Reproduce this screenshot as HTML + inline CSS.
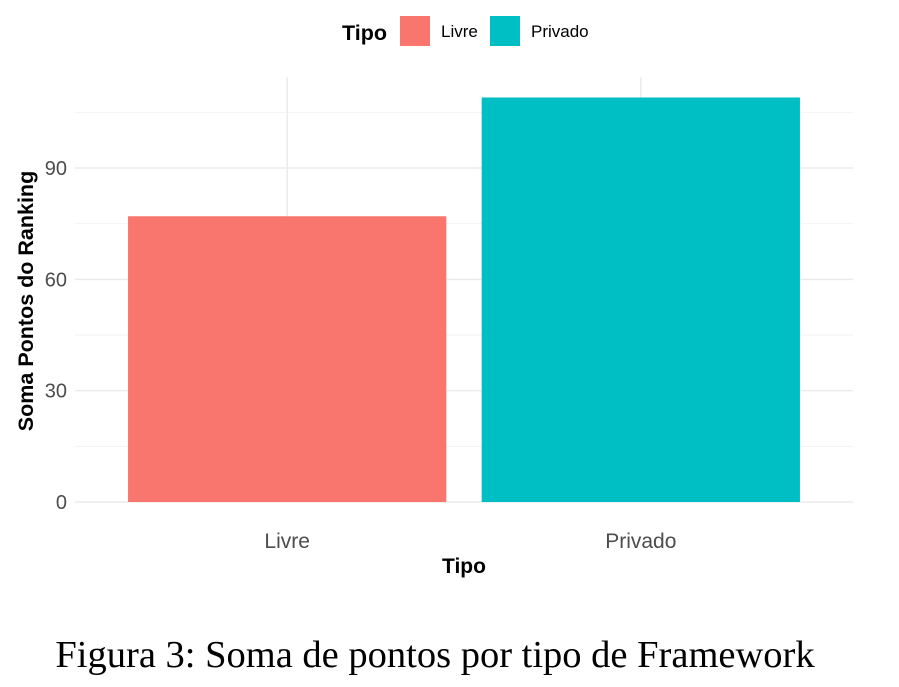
<!DOCTYPE html>
<html><head><meta charset="utf-8"><style>
body{margin:0;background:#fff;}
svg{display:block;font-family:"Liberation Sans",sans-serif;}
</style></head><body>
<svg id="chart" width="899" height="687" viewBox="0 0 899 687">
<g id="grid"></g><g id="bars"></g><g id="axes"></g>
<g>
<text x="342" y="40" font-size="21.5" font-weight="bold">Tipo</text>
<rect x="400" y="16" width="30" height="30" fill="#F8766D"/>
<text x="441" y="37" font-size="17">Livre</text>
<rect x="490" y="16" width="30" height="30" fill="#00BFC4"/>
<text x="531" y="37" font-size="17">Privado</text>
</g>
<text x="464" y="573" font-size="21" font-weight="bold" text-anchor="middle">Tipo</text>
<text transform="translate(33,301) rotate(-90)" font-size="21.5" font-weight="bold" text-anchor="middle">Soma Pontos do Ranking</text>
<text x="435" y="667" font-size="38.5" font-family="'Liberation Serif',serif" text-anchor="middle">Figura 3: Soma de pontos por tipo de Framework</text>
</svg>
<script>
const categories=["Livre","Privado"];
const values=[77,109];
const colors=["#F8766D","#00BFC4"];
const yTicks=[0,30,60,90];
const yMinor=[15,45,75,105];
const ns="http://www.w3.org/2000/svg";
const px0=75,px1=853,pyTop=77,y0=502,unit=(502-168)/90;
const y=v=>y0-v*unit;
const span=(px1-px0)/(categories.length-1+1.2);
const x=i=>px0+span*(0.6+i);
function mk(tag,attrs,parent){const e=document.createElementNS(ns,tag);for(const k in attrs)e.setAttribute(k,attrs[k]);document.getElementById(parent).appendChild(e);return e;}
yMinor.forEach(v=>{const l=mk("line",{x1:px0,x2:px1,y1:y(v),y2:y(v),stroke:"#f2f2f2","stroke-width":1},"grid");

});
yTicks.forEach(v=>{const l=mk("line",{x1:px0,x2:px1,y1:y(v),y2:y(v),stroke:"#ebebeb","stroke-width":1.5},"grid");


const t=mk("text",{x:67,y:y(v)+7,"font-size":20,fill:"#4d4d4d","text-anchor":"end"},"axes");t.textContent=v;

});
categories.forEach((c,i)=>{const l=mk("line",{x1:x(i),x2:x(i),y1:pyTop,y2:y0,stroke:"#ebebeb","stroke-width":1.5},"grid");


const w=span*0.9;
const r=mk("rect",{x:x(i)-w/2,y:y(values[i]),width:w,height:y0-y(values[i]),fill:colors[i]},"bars");


const t=mk("text",{x:x(i),y:548,"font-size":21,fill:"#4d4d4d","text-anchor":"middle"},"axes");t.textContent=c;

});
</script>
</body></html>
